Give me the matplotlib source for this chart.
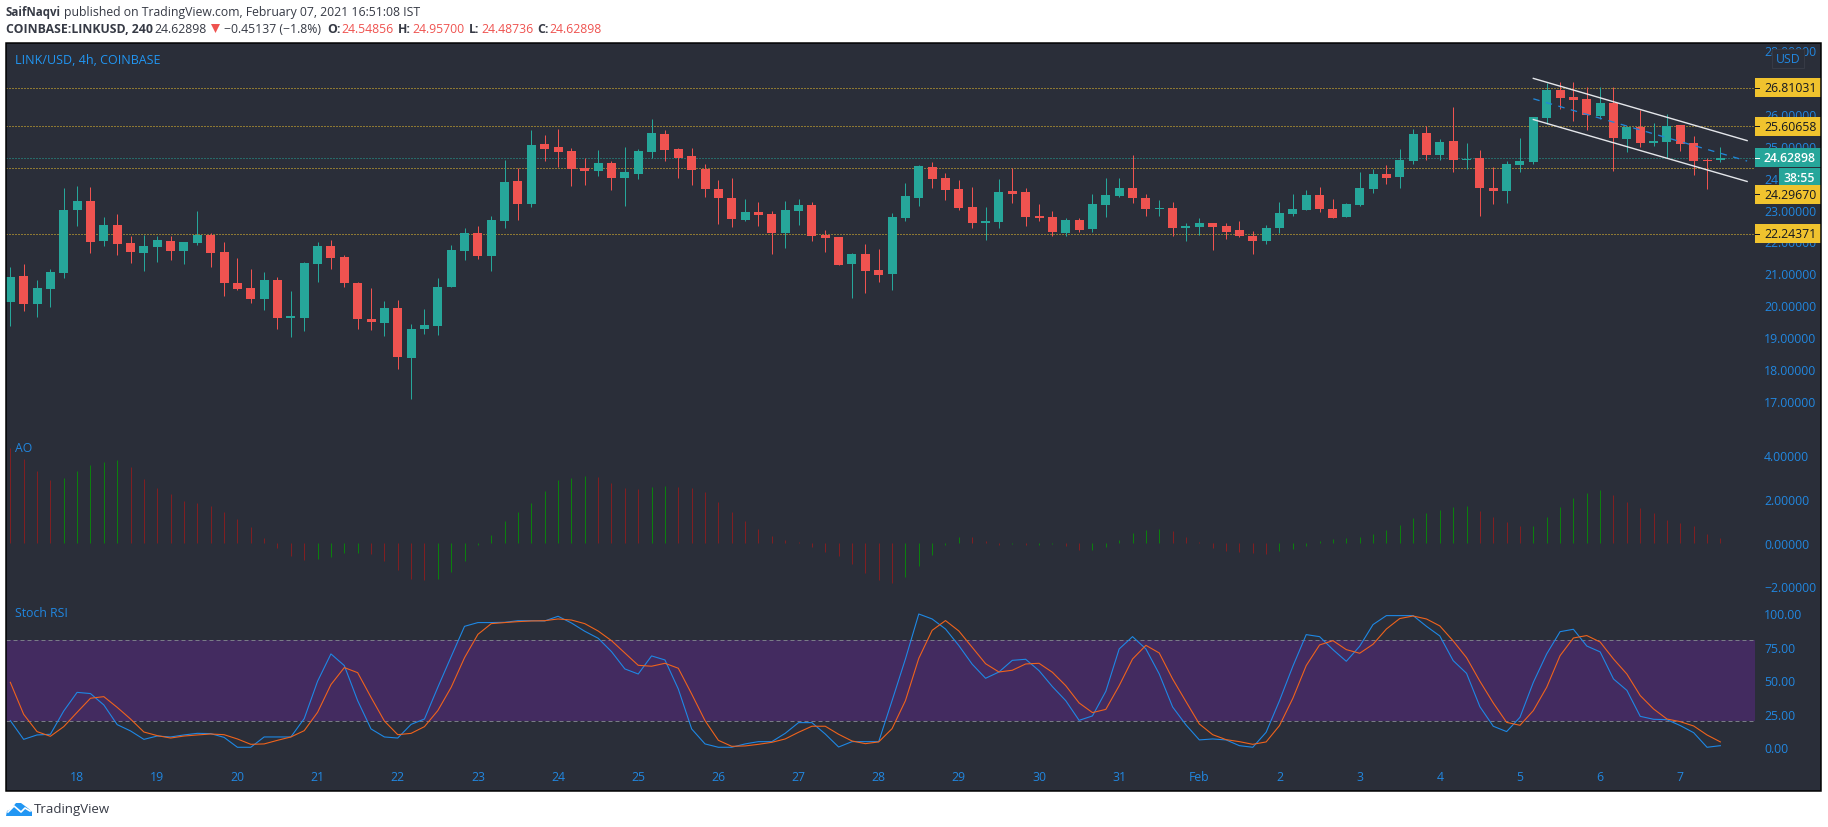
import numpy as np
import matplotlib
matplotlib.use('Agg')
import matplotlib.pyplot as plt
from matplotlib.patches import Rectangle, Polygon

plt.rcParams['font.family'] = ['Open Sans', 'DejaVu Sans']

# candles
opens = [20.11,20.92,20.04,20.51,21.01,22.99,23.27,22.02,22.52,21.95,
         21.64,21.83,22.02,21.70,21.95,22.20,21.67,20.70,20.54,20.20,
         20.79,19.60,19.60,21.29,21.86,21.51,20.70,19.57,19.45,19.92,
         18.35,19.26,19.35,20.57,21.70,22.27,21.55,22.64,23.90,23.18,
         25.06,24.96,24.84,24.30,24.21,24.46,23.99,24.12,24.81,25.37,
         24.90,24.68,24.27,23.65,23.36,22.67,22.92,22.86,22.27,22.96,
         23.14,22.20,22.14,21.29,21.61,21.11,20.98,22.74,23.36,24.34,
         23.99,23.65,23.08,22.58,22.61,23.58,23.55,22.80,22.77,22.27,
         22.67,22.39,23.14,23.43,23.68,23.36,23.02,23.05,22.42,22.45,
         22.58,22.49,22.36,22.17,22.02,22.42,22.86,22.99,23.46,23.02,
         22.77,23.14,23.65,24.12,24.02,24.52,25.40,24.71,25.15,24.55,
         24.62,23.68,23.58,24.40,24.49,25.87,26.75,26.53,26.47,25.93,
         26.34,25.21,25.59,25.09,25.12,25.65,25.09,24.55,24.54856]
highs = [21.19,21.28,20.79,21.14,23.67,23.74,23.70,22.77,22.86,22.17,
         22.20,22.17,22.17,21.98,22.96,22.27,21.98,21.48,21.14,21.04,
         20.89,20.45,21.36,21.98,22.05,21.58,20.73,20.54,20.13,20.17,
         19.41,19.88,20.86,21.89,22.42,22.49,22.80,24.55,24.30,25.49,
         25.34,25.53,24.93,24.62,24.87,24.52,24.96,24.90,25.84,25.49,
         24.93,24.93,24.43,23.93,23.99,23.33,23.24,22.96,23.27,23.33,
         23.24,22.36,22.14,21.64,21.92,21.76,22.89,23.83,24.40,24.49,
         24.15,23.93,23.71,23.08,23.96,24.30,23.68,23.18,22.96,22.74,
         22.74,23.49,23.99,23.99,24.71,23.49,23.30,23.24,22.58,22.74,
         22.58,22.58,22.64,22.33,22.52,23.24,23.49,23.61,23.71,23.33,
         23.21,24.18,24.27,24.40,24.90,25.53,25.62,25.21,26.22,25.09,
         24.87,24.33,24.52,25.24,25.90,26.97,27.00,27.00,26.84,26.84,
         26.84,25.59,26.12,25.71,26.00,25.65,25.31,24.62,24.957]
lows = [19.36,19.83,19.64,19.96,20.87,22.49,21.64,21.86,21.58,21.33,
        21.08,21.36,21.42,21.29,21.89,21.20,20.29,20.48,20.07,19.85,
        19.26,19.01,19.19,20.73,21.14,20.57,19.26,19.23,19.04,18.00,
        17.06,19.10,19.07,20.57,21.42,21.45,21.08,22.42,22.67,23.08,
        24.52,24.34,23.74,23.77,24.05,23.61,23.11,23.96,24.62,24.52,
        23.99,23.77,23.40,22.55,22.45,22.64,22.49,21.61,21.80,22.52,
        22.02,21.67,21.26,20.23,20.39,20.73,20.48,22.64,23.11,23.68,
        23.30,22.99,22.42,22.05,22.42,23.21,22.49,22.64,22.17,22.17,
        22.30,22.30,22.77,23.40,23.21,22.80,22.80,22.17,22.02,22.20,
        21.73,22.08,22.14,21.61,21.92,22.27,22.80,22.99,22.92,22.74,
        22.77,23.11,23.52,23.80,23.68,24.43,24.55,24.55,24.18,24.27,
        22.80,23.18,23.21,24.18,24.43,25.68,26.15,25.78,25.50,25.84,
        24.21,24.80,24.96,24.99,24.62,24.84,24.08,23.65,24.48736]
closes = [20.89,20.04,20.54,21.04,22.99,23.27,21.98,22.52,21.92,21.67,
          21.86,22.05,21.70,21.98,22.20,21.64,20.70,20.51,20.20,20.79,
          19.60,19.66,21.33,21.86,21.48,20.70,19.57,19.48,19.92,18.38,
          19.26,19.38,20.57,21.73,22.27,21.55,22.67,23.87,23.18,25.02,
          24.90,24.81,24.27,24.21,24.46,23.99,24.18,24.84,25.40,24.87,
          24.62,24.24,23.65,23.36,22.71,22.92,22.83,22.27,22.99,23.14,
          22.17,22.11,21.26,21.61,21.08,20.95,22.77,23.43,24.37,23.96,
          23.61,23.05,22.58,22.64,23.55,23.49,22.77,22.74,22.30,22.67,
          22.36,23.18,23.46,23.68,23.36,23.02,23.05,22.42,22.49,22.58,
          22.45,22.30,22.17,22.02,22.42,22.89,23.02,23.46,23.02,22.74,
          23.18,23.68,24.12,23.99,24.55,25.37,24.71,25.12,24.55,24.59,
          23.68,23.58,24.43,24.52,25.90,26.75,26.50,26.44,25.96,26.34,
          25.24,25.59,25.09,25.15,25.62,25.06,24.52,24.52,24.62898]

# awesome oscillator
ao = [4.31,3.82,3.27,2.86,2.94,3.27,3.52,3.68,3.77,3.46,
      2.91,2.50,2.22,1.90,1.81,1.67,1.40,1.08,0.72,0.21,
      -0.24,-0.61,-0.79,-0.75,-0.65,-0.47,-0.47,-0.52,-0.84,-1.25,
      -1.66,-1.70,-1.66,-1.34,-0.84,-0.11,0.35,0.99,1.40,1.81,
      2.36,2.86,2.95,3.04,3.00,2.72,2.50,2.45,2.54,2.59,
      2.54,2.50,2.31,1.86,1.40,0.99,0.62,0.30,0.12,0.03,
      -0.20,-0.43,-0.61,-0.97,-1.39,-1.70,-1.84,-1.57,-1.07,-0.56,
      -0.11,0.26,0.25,0.08,-0.11,-0.06,-0.11,-0.11,-0.06,-0.15,
      -0.33,-0.33,-0.20,0.12,0.44,0.58,0.62,0.53,0.26,0.03,
      -0.24,-0.38,-0.43,-0.47,-0.52,-0.38,-0.29,-0.15,0.08,0.17,
      0.21,0.26,0.40,0.58,0.81,1.13,1.35,1.49,1.63,1.67,
      1.45,1.17,0.94,0.76,0.76,1.17,1.63,2.04,2.27,2.40,
      2.18,1.86,1.58,1.35,1.04,0.90,0.76,0.40,0.21]

# stoch rsi
stoch_k = [20.0,6.0,9.3,9.8,27.2,41.1,40.2,31.7,17.0,12.3,
           6.0,8.5,7.8,9.3,10.5,10.3,7.5,0.1,0.1,7.8,
           7.8,7.8,21.5,49.4,69.8,61.1,34.9,13.8,7.8,7.0,
           17.2,21.2,44.9,67.8,90.4,93.2,93.2,93.4,94.6,94.6,
           94.4,97.9,92.9,86.7,81.5,71.5,58.6,54.8,68.3,65.3,
           43.6,13.8,2.6,0.1,0.1,2.6,4.3,4.3,10.5,18.5,
           18.5,10.0,0.3,4.3,4.3,4.3,34.9,66.0,99.6,95.9,
           88.4,76.0,62.1,51.6,56.3,65.0,65.8,57.3,45.4,34.9,
           20.2,23.5,41.9,73.5,82.7,73.5,54.8,30.2,16.8,5.6,
           6.3,5.6,1.3,0.1,11.3,34.9,60.6,84.2,82.7,73.0,
           64.3,75.5,91.7,98.4,98.4,98.4,90.4,83.2,64.8,55.3,
           30.4,15.8,11.8,22.5,48.6,69.8,86.4,88.2,75.7,71.3,
           51.1,42.6,23.2,21.0,20.7,16.3,11.0,0.1,1.3]
stoch_d = [48.6,24.7,11.8,8.3,15.5,26.2,36.7,37.9,29.9,21.2,
           11.5,8.8,7.0,8.5,9.3,10.0,9.5,6.3,2.3,2.6,
           5.3,7.8,12.5,26.2,46.9,59.6,55.8,37.4,19.7,9.5,
           10.5,15.5,27.5,44.9,67.0,84.4,92.4,93.2,93.9,94.4,
           94.6,95.9,95.1,92.4,86.9,79.7,70.5,61.3,60.6,62.8,
           59.1,39.9,20.0,5.3,0.8,1.1,2.3,3.8,6.3,11.3,
           15.8,15.8,9.8,4.8,2.8,4.1,14.0,34.9,66.5,87.4,
           94.7,86.9,74.7,62.5,56.3,57.6,62.3,62.8,56.1,46.1,
           33.2,26.0,28.4,46.1,66.0,76.2,70.5,51.1,34.2,17.5,
           9.5,5.8,4.3,2.3,4.1,16.3,36.7,61.1,76.5,79.7,
           73.0,70.3,77.0,88.4,96.2,98.1,95.9,90.7,79.5,67.0,
           49.4,33.2,18.7,16.5,27.5,44.9,68.5,81.7,83.5,78.7,
           66.0,54.8,38.7,28.7,21.2,19.2,16.0,9.3,4.1]

levels = [26.81031, 25.60658, 24.29670, 22.24371]
last_price = 24.62898
channel_x = [114, 130]
channel_upper = [27.11, 25.16]
channel_mid = [26.47, 24.52]
channel_lower = [25.82, 23.88]

price_ticks = [17, 18, 19, 20, 21, 22, 23, 24, 25, 26, 27, 28]
ao_ticks = [-2, 0, 2, 4]
stoch_ticks = [0, 25, 50, 75, 100]
day_pos = [5 + 6 * n for n in range(21)]
day_labels = ['18', '19', '20', '21', '22', '23', '24', '25', '26', '27', '28', '29',
              '30', '31', 'Feb', '2', '3', '4', '5', '6', '7']

W, H = 1828, 828
PANEL = '#2a2e39'
GREEN = '#26a69a'
RED = '#ef5350'
YELLOW = '#f0c32e'
BLUE = '#2187e0'
DARK = '#131722'
PX = 0.72  # one pixel in points at dpi 100
LEFT, RIGHT = 6, 1755
BAR0, BAR_STEP = 10.3, 13.36

fig = plt.figure(figsize=(W / 100, H / 100), dpi=100, facecolor='white')


def fx(x):
    return x / W


def fy(y):
    return 1 - y / H


def pane(top, bottom, ylim):
    ax = fig.add_axes([fx(LEFT), fy(bottom), (RIGHT - LEFT) / W, (bottom - top) / H])
    ax.set_facecolor('none')
    for s in ax.spines.values():
        s.set_visible(False)
    ax.set_xlim((LEFT - BAR0) / BAR_STEP, (RIGHT - BAR0) / BAR_STEP)
    ax.set_ylim(*ylim)
    ax.set_xticks([])
    ax.yaxis.tick_right()
    ax.tick_params(axis='y', length=0, pad=9 * PX, labelsize=8.8, labelcolor=BLUE)
    return ax


def put_text(x, y, s, **kw):
    kw.setdefault('va', 'center')
    kw.setdefault('fontsize', 8.8)
    return fig.text(fx(x), fy(y), s, **kw)


fig.add_artist(Rectangle((fx(6), fy(792)), (1821 - 6) / W, (792 - 44) / H,
                         transform=fig.transFigure, facecolor=PANEL, edgecolor='none', zorder=-2))

ax1 = pane(43, 440, (15.81, 28.25))
ax2 = pane(440, 600, (-2.58, 4.73))
ax3 = pane(600, 791, (-31.8, 110.8))

# price pane
x = np.arange(len(closes))
o, h, l, c = map(np.array, (opens, highs, lows, closes))
up = c >= o
colors = np.where(up, GREEN, RED)
for lev in levels:
    ax1.axhline(lev, color=YELLOW, lw=PX, ls=(0, (1, 2)), zorder=1)
ax1.axhline(last_price, color=GREEN, lw=PX, ls=(0, (1, 2)), zorder=1)
ax1.vlines(x, l, h, colors=colors, lw=PX, zorder=2, snap=True)
ax1.bar(x, np.abs(c - o), bottom=np.minimum(o, c), width=9 / BAR_STEP, color=colors, lw=0, zorder=3)
ax1.plot(channel_x, channel_upper, color='#e4e6ea', lw=1.4 * PX, zorder=4)
ax1.plot(channel_x, channel_lower, color='#e4e6ea', lw=1.4 * PX, zorder=4)
ax1.plot(channel_x, channel_mid, color='#2186d8', lw=1.3 * PX, ls=(0, (5, 5)), zorder=4)
ax1.set_yticks(price_ticks, ['%.5f' % t for t in price_ticks])

# awesome oscillator
ao_arr = np.array(ao)
rising = np.r_[False, np.diff(ao_arr) >= 0]
ax2.vlines(x, 0, ao_arr, colors=np.where(rising, '#0b7f0e', '#7f1f22'), lw=PX, snap=True)
ax2.set_yticks(ao_ticks, [('%.5f' % t).replace('-', '\u2212') for t in ao_ticks])

# stoch rsi
ax3.axhspan(20, 80, color='#432b60', lw=0, zorder=1)
for band in (20, 80):
    ax3.axhline(band, color='#787b86', lw=PX, ls=(0, (4, 3)), zorder=2)
ax3.plot(x, stoch_k, color='#1e88e5', lw=1.1 * PX, zorder=3)
ax3.plot(x, stoch_d, color='#f0631c', lw=1.1 * PX, zorder=4)
ax3.set_yticks(stoch_ticks, ['%.2f' % t for t in stoch_ticks])
ax3.set_xticks(day_pos, day_labels)
ax3.tick_params(axis='x', length=0, pad=-20 * PX, labelsize=8.8, labelcolor=BLUE)

fig.canvas.draw()


def price_y(p):
    return H - ax1.transData.transform((0, p))[1]


def add_box(top, bottom, left, color, zorder=5):
    fig.add_artist(Rectangle((fx(left), fy(bottom)), (1821 - left) / W, (bottom - top) / H,
                             transform=fig.transFigure, facecolor=color, edgecolor='none', zorder=zorder))


# price labels over the axis text
for lev in levels:
    yc = price_y(lev)
    if lev == 24.29670:
        yc += 26  # pushed down by the countdown box
    add_box(yc - 9.5, yc + 9.5, RIGHT, YELLOW)
    fig.add_artist(plt.Line2D([fx(RIGHT), fx(RIGHT + 4)], [fy(yc), fy(yc)], color=DARK, lw=PX, zorder=6))
    put_text(1764, yc, '%.5f' % lev, color=DARK, zorder=7)

yc = price_y(last_price)
add_box(yc - 9.5, yc + 9.5, RIGHT, GREEN)
fig.add_artist(plt.Line2D([fx(RIGHT), fx(RIGHT + 4)], [fy(yc), fy(yc)], color='white', lw=PX, zorder=6))
put_text(1764, yc, '%.5f' % last_price, color='white', zorder=7, fontweight='semibold')
add_box(169, 186, 1779, GREEN)
put_text(1783, 178, '38:55', color='white', zorder=7, fontweight='semibold')

fig.add_artist(Rectangle((fx(1772), fy(69)), 32 / W, 19 / H, transform=fig.transFigure,
                         facecolor=PANEL, edgecolor='#363a45', lw=PX, zorder=5))
put_text(1788, 59.5, 'USD', color=BLUE, ha='center', zorder=7)

# pane titles
put_text(15, 60, 'LINK/USD, 4h, COINBASE', color='#2196f3', fontsize=9, zorder=7)
put_text(15, 449, 'AO', color=BLUE, zorder=7)
put_text(15, 614, 'Stoch RSI', color=BLUE, zorder=7)

# frame
fig.add_artist(Rectangle((fx(6), fy(791.5)), (1821 - 6) / W, (791.5 - 44) / H, transform=fig.transFigure,
                         facecolor='none', edgecolor='#000000', lw=1.5 * PX, zorder=8))

# header
INK = '#363a45'
put_text(6, 12.5, 'SaifNaqvi', color=INK, fontweight='bold', fontsize=8.3)
put_text(64, 12.5, 'published on TradingView.com, February 07, 2021 16:51:08 IST', color=INK)
put_text(6, 29.5, 'COINBASE:LINKUSD, 240', color=INK, fontweight='bold')
put_text(154, 29.5, '24.62898', color=INK)
fig.add_artist(Polygon([(fx(211), fy(25)), (fx(220), fy(25)), (fx(215.5), fy(34))],
                       transform=fig.transFigure, facecolor=RED, edgecolor='none'))
put_text(224, 29.5, '\u22120.45137 (\u22121.8%)', color=INK)
for lx, name, vx, val in [(327, 'O:', 341, '24.54856'), (398, 'H:', 412, '24.95700'),
                          (469, 'L:', 481, '24.48736'), (537, 'C:', 549, '24.62898')]:
    put_text(lx, 29.5, name, color=INK, fontweight='bold')
    put_text(vx, 29.5, val, color=RED)

# footer logo
cloud = [(6, 817), (7, 812), (11, 810), (16, 804), (21, 804), (25, 807), (29, 810), (32, 813), (32, 817)]
fig.add_artist(Polygon([(fx(a), fy(b)) for a, b in cloud], transform=fig.transFigure,
                       facecolor='#2196f3', edgecolor='none'))
fig.add_artist(plt.Line2D([fx(a) for a in (8, 14, 21, 25, 30)], [fy(b) for b in (813, 807, 813, 809, 812)],
                          color='white', lw=1.2))
put_text(34, 809.5, 'TradingView', color=INK, fontsize=9.5)

fig.savefig('out.png', dpi=100)
